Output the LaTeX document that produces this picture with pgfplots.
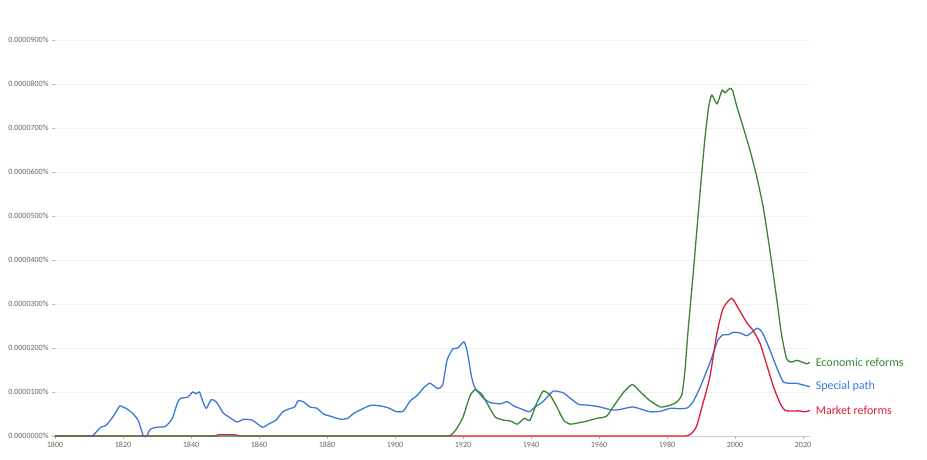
\documentclass[border=0pt]{standalone}
\usepackage{fontspec}
\setmainfont{Carlito}
\usepackage{pgfplots}
\pgfplotsset{compat=1.18}
\definecolor{ngblue}{HTML}{3C78D8}
\definecolor{nggreen}{HTML}{3A8534}
\definecolor{ngred}{HTML}{DC1E3A}
\definecolor{ticktext}{HTML}{666666}

\begin{document}
\begin{tikzpicture}
\useasboundingbox (0,0) rectangle (927pt,460pt);
\begin{axis}[
  at={(55pt,24pt)}, anchor=south west,
  scale only axis,
  width=754.8pt, height=409.2pt,
  xmin=1800, xmax=2022, ymin=0, ymax=9.3,
  clip=false,
  axis x line*=bottom, axis y line*=left,
  x axis line style={draw=gray!40},
  y axis line style={draw=none},
  tick align=outside,
  major tick length=3pt,
  tick style={gray!60, line width=0.5pt},
  xtick={1800,1820,...,2020},
  ytick={0,1,...,9},
  yticklabels={0.0000000\%,0.0000100\%,0.0000200\%,0.0000300\%,0.0000400\%,0.0000500\%,0.0000600\%,0.0000700\%,0.0000800\%,0.0000900\%},
  ymajorgrids, grid style={gray!12, line width=0.5pt},
  /pgf/number format/1000 sep={},
  /pgf/number format/assume math mode=true,
  tick label style={font=\fontsize{8}{9}\selectfont, text=ticktext},
  every axis plot/.append style={line width=1.3pt, smooth, tension=0.35},
]
% Special path
\addplot[ngblue] coordinates {
(1800,0) (1805,0) (1808,0) (1810,0) (1811,0) (1812,0.08) (1813.5,0.2) (1815,0.24) (1817,0.43) (1819,0.68) (1820,0.66) (1821.5,0.6) (1823,0.5) (1824.5,0.35) (1826,0) (1827,0) (1828,0.15) (1830,0.2) (1832.5,0.22) (1834.5,0.4) (1836,0.75) (1837,0.86) (1839,0.88) (1840.5,1.0) (1841.5,0.96) (1842.5,1.0) (1843.5,0.78) (1844.5,0.63) (1846,0.83) (1847.5,0.77) (1849.5,0.52) (1851,0.44) (1853.5,0.32) (1855.5,0.38) (1858,0.36) (1861,0.2) (1863,0.28) (1865,0.36) (1867,0.55) (1869,0.62) (1870.5,0.66) (1871.5,0.8) (1873,0.78) (1875,0.66) (1877,0.63) (1879,0.5) (1881,0.45) (1884,0.38) (1886,0.4) (1888,0.52) (1890.5,0.62) (1893,0.7) (1896,0.68) (1898,0.64) (1900.5,0.55) (1902.5,0.57) (1904.5,0.8) (1906.5,0.92) (1908.5,1.1) (1910.3,1.2) (1912.5,1.08) (1914,1.15) (1915.3,1.72) (1917,1.98) (1918.5,2.0) (1920.3,2.14) (1921.3,1.9) (1922.5,1.35) (1923.5,1.1) (1926,0.86) (1928,0.76) (1931,0.73) (1933,0.78) (1935,0.68) (1937,0.62) (1939.5,0.55) (1941,0.65) (1943.5,0.78) (1946.5,1.02) (1949.5,0.98) (1951.5,0.86) (1954,0.72) (1957,0.7) (1960.3,0.66) (1963.8,0.59) (1966,0.6) (1969.7,0.66) (1972,0.62) (1975,0.55) (1978,0.56) (1981,0.63) (1984,0.62) (1986,0.64) (1987.6,0.77) (1989.7,1.1) (1992.6,1.66) (1995,2.18) (1996.5,2.3) (1998,2.3) (1999.5,2.36) (2001.5,2.34) (2003.5,2.28) (2005,2.36) (2006.5,2.45) (2008,2.36) (2010.3,1.95) (2012.3,1.55) (2014.2,1.23) (2016.2,1.2) (2018,1.2) (2020,1.16) (2022,1.12)
} node[pos=1, anchor=west, xshift=2pt, font=\fontsize{12}{14}\selectfont, text=ngblue] {Special path};
% Market reforms
\addplot[ngred] coordinates {
(1800,0) (1820,0) (1840,0) (1844,0) (1846,0) (1847,0.005) (1848,0.025) (1850,0.03) (1853,0.025) (1854,0.005) (1855,0) (1857,0) (1862,0) (1880,0) (1920,0) (1960,0) (1978,0) (1982,0) (1984,0) (1985.5,0) (1986.5,0.02) (1987.5,0.08) (1988.7,0.22) (1990.6,0.75) (1992.6,1.34) (1994.7,2.34) (1996.5,2.9) (1999,3.13) (2001,2.9) (2003.5,2.57) (2005.3,2.4) (2007.4,2.1) (2009.4,1.6) (2011.4,1.1) (2013.4,0.72) (2014.8,0.58) (2017,0.57) (2019,0.57) (2020.6,0.55) (2022,0.58)
} node[pos=1, anchor=west, xshift=2pt, font=\fontsize{12}{14}\selectfont, text=ngred] {Market reforms};
% Economic reforms
\addplot[nggreen] coordinates {
(1800,0) (1840,0) (1880,0) (1900,0) (1908,0) (1912,0) (1914,0) (1915.5,0) (1916.6,0.03) (1918,0.15) (1920,0.43) (1922,0.9) (1923.5,1.05) (1925.5,0.95) (1927.4,0.7) (1929.5,0.43) (1932,0.36) (1934,0.34) (1936,0.27) (1938,0.4) (1939.7,0.36) (1941.7,0.75) (1943.6,1.02) (1945.6,0.93) (1947.6,0.66) (1949.6,0.36) (1951.5,0.27) (1954,0.3) (1956.5,0.34) (1959.3,0.4) (1962.2,0.45) (1964.5,0.7) (1967.3,1.0) (1969.8,1.17) (1972.2,1.0) (1974.7,0.82) (1978,0.66) (1981,0.7) (1983,0.78) (1984.4,0.95) (1985.3,1.5) (1986.2,2.4) (1987.6,3.6) (1989.7,5.52) (1991.2,6.8) (1992.3,7.5) (1993.2,7.75) (1994.7,7.55) (1996.2,7.86) (1997,7.8) (1998.5,7.9) (1999.3,7.85) (2000.5,7.5) (2002.4,7.02) (2004.4,6.5) (2006.4,5.89) (2008.3,5.2) (2010.3,4.2) (2012.3,3.1) (2013.7,2.3) (2015.2,1.75) (2016.6,1.68) (2018.2,1.72) (2019.7,1.68) (2021.2,1.64) (2022,1.68)
} node[pos=1, anchor=west, xshift=2pt, font=\fontsize{12}{14}\selectfont, text=nggreen] {Economic reforms};
\end{axis}
\end{tikzpicture}
\end{document}
